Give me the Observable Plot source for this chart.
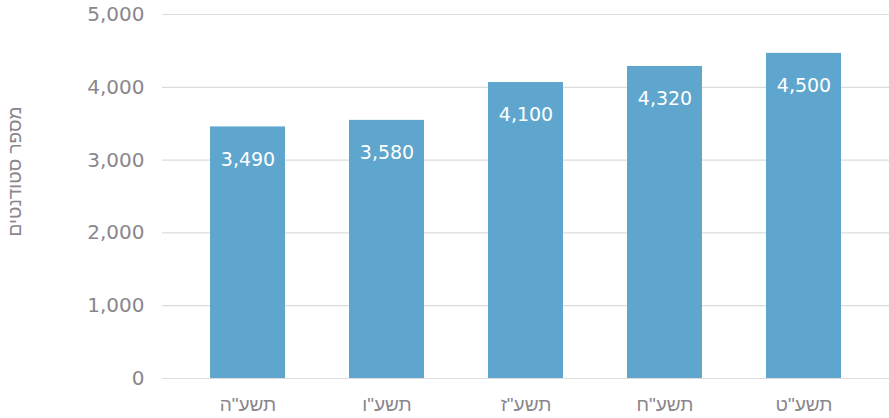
<!DOCTYPE html>
<html><head><meta charset="utf-8">
<script src="https://cdn.jsdelivr.net/npm/d3@7"></script>
<script src="https://cdn.jsdelivr.net/npm/@observablehq/plot@0.6"></script>
<style>body{margin:0;background:#fff;} svg{display:block;}</style>
</head><body><div id="chart"></div>
<script>
const years = ["תשע\"ה", "תשע\"ו", "תשע\"ז", "תשע\"ח", "תשע\"ט"];
const students = [3490, 3580, 4100, 4320, 4500];
const yTicks = [0, 1000, 2000, 3000, 4000, 5000];
const yTitle = "מספר סטודנטים";

const data = years.map((y, i) => ({year: y, value: students[i]}));
const fmt = d3.format(",");
const grey = "#8a868c";
const chart = Plot.plot({
  width: 889, height: 418,
  marginLeft: 162, marginRight: 0, marginTop: 14, marginBottom: 40,
  style: {fontFamily: "'DejaVu Sans', sans-serif", fontSize: "18px", color: grey, background: "#fff"},
  x: {domain: years, paddingInner: 0.46, paddingOuter: 0.345, label: null},
  y: {domain: [0, 5000], ticks: yTicks, label: null},
  marks: [
    Plot.ruleY(yTicks, {stroke: "#dcdcdc", strokeWidth: 1.2}),
    Plot.barY(data, {x: "year", y: "value", fill: "#5fa6ce", insetTop: 2.5}),
    Plot.text(data, {x: "year", y: "value", text: d => fmt(d.value), dy: 35, fill: "#fff", fontSize: 19}),
    Plot.axisY({ticks: yTicks, tickFormat: fmt, tickSize: 0, tickPadding: 18, label: null, fontSize: 20}),
    Plot.axisX({tickSize: 0, tickPadding: 19, label: null, fontFamily: "'Liberation Sans', sans-serif", fontSize: 19}),
    Plot.text([yTitle], {frameAnchor: "left", textAnchor: "middle", rotate: -90, dx: -148, dy: -25, fill: grey, fontSize: 19, fontFamily: "'Liberation Sans', sans-serif"})
  ]
});
document.getElementById("chart").append(chart);
</script>
</body></html>
